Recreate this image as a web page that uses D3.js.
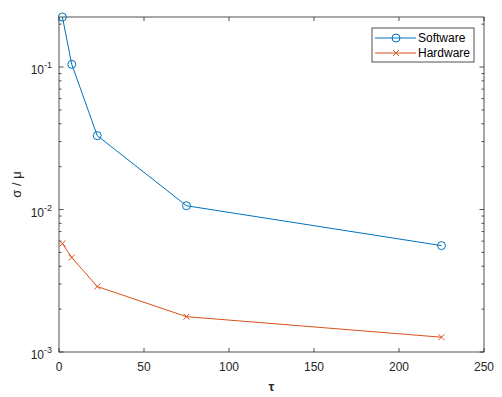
<!DOCTYPE html>
<html>
<head>
<meta charset="utf-8">
<script src="https://cdn.jsdelivr.net/npm/d3@7"></script>
<style>
  body { margin: 0; background: #fff; }
  svg { display: block; font-family: "Liberation Sans", Arial, sans-serif; }
</style>
</head>
<body>
<svg id="chart" width="502" height="397"></svg>
<script>
// data
const tau = [2, 7.5, 22.5, 75, 225];
const software = [0.2245, 0.1045, 0.033, 0.01063, 0.00558];
const hardware = [0.00577, 0.0046, 0.00288, 0.00177, 0.00127];
const xTicks = [0, 50, 100, 150, 200, 250];
const yTicks = [1e-3, 1e-2, 1e-1];
const seriesNames = ['Software', 'Hardware'];

const W = 502, H = 397;
const margin = { left: 59, right: 18, top: 17, bottom: 45 };
const axisColor = '#262626';
const colors = ['#0072BD', '#D95319'];

let svg = d3.select('#chart');
let x = d3.scaleLinear().domain([0, 250]).range([margin.left, W - margin.right]);
let y = d3.scaleLog().domain([1e-3, d3.max(software)]).range([H - margin.bottom, margin.top]);

let [x0, x1] = x.range();
let [y0, y1] = y.range();

// ticks (inside, on all four sides)
let tickG = svg.append('g').attr('stroke', axisColor).attr('stroke-width', 0.8);
for (let t of xTicks)
{
  tickG.append('line').attr('x1', x(t)).attr('x2', x(t)).attr('y1', y0).attr('y2', y0 - 4);
  tickG.append('line').attr('x1', x(t)).attr('x2', x(t)).attr('y1', y1).attr('y2', y1 + 4);
}
let minor = [];
for (let e = -3; e <= -1; e++)
  for (let m = 1; m <= 9; m++)
  {
    let v = m * Math.pow(10, e);
    if (v >= y.domain()[0] && v <= y.domain()[1]) minor.push([v, m === 1]);
  }
for (let [v, major] of minor)
{
  let len = major ? 4.5 : 2.5;
  tickG.append('line').attr('x1', x0).attr('x2', x0 + len).attr('y1', y(v)).attr('y2', y(v));
  tickG.append('line').attr('x1', x1).attr('x2', x1 - len).attr('y1', y(v)).attr('y2', y(v));
}

// box
svg.append('rect')
    .attr('x', x0).attr('y', y1)
    .attr('width', x1 - x0).attr('height', y0 - y1)
    .attr('fill', 'none').attr('stroke', axisColor).attr('stroke-width', 0.8);

// tick labels
svg.append('g').selectAll('text')
    .data(xTicks)
    .join('text')
    .attr('x', d => x(d))
    .attr('y', y0 + 19)
    .attr('text-anchor', 'middle')
    .attr('font-size', 12)
    .attr('fill', axisColor)
    .text(d => d);

let yl = svg.append('g').selectAll('text')
    .data(yTicks)
    .join('text')
    .attr('x', x0 - 7)
    .attr('y', d => y(d) + 7)
    .attr('text-anchor', 'end')
    .attr('font-size', 12)
    .attr('fill', axisColor);
yl.append('tspan').text('10');
yl.append('tspan').attr('dy', -6).attr('font-size', 9).text(d => Math.round(Math.log10(d)));

// axis labels
svg.append('text')
    .attr('x', (x0 + x1) / 2).attr('y', H - 6)
    .attr('text-anchor', 'middle')
    .attr('font-size', 13).attr('font-weight', 'bold')
    .attr('fill', axisColor)
    .text('τ');
svg.append('text')
    .attr('transform', `translate(21,${(y0 + y1) / 2}) rotate(-90)`)
    .attr('text-anchor', 'middle')
    .attr('font-size', 13)
    .attr('fill', axisColor)
    .text('σ / μ');

// series
let line = d3.line().x((d, i) => x(tau[i])).y(d => y(d));
let allSeries = [software, hardware];

function drawMarker(g, k, cx, cy)
{
  if (k === 0)
  {
    g.append('circle').attr('cx', cx).attr('cy', cy).attr('r', 4)
        .attr('fill', 'none').attr('stroke', colors[k]).attr('stroke-width', 1);
  }
  else
  {
    let s = 3;
    g.append('path')
        .attr('d', `M${cx - s},${cy - s}L${cx + s},${cy + s}M${cx - s},${cy + s}L${cx + s},${cy - s}`)
        .attr('stroke', colors[k]).attr('stroke-width', 1);
  }
}

allSeries.forEach((vals, k) => {
  let g = svg.append('g');
  g.append('path')
      .datum(vals)
      .attr('d', line)
      .attr('fill', 'none')
      .attr('stroke', colors[k])
      .attr('stroke-width', 1);
  vals.forEach((v, i) => drawMarker(g, k, x(tau[i]), y(v)));
});

// legend
let lg = svg.append('g');
lg.append('rect')
    .attr('x', 372).attr('y', 28).attr('width', 102).attr('height', 34)
    .attr('fill', '#fff').attr('stroke', axisColor).attr('stroke-width', 0.8);
seriesNames.forEach((name, k) => {
  let ly = 38 + k * 15;
  lg.append('line').attr('x1', 375).attr('x2', 416).attr('y1', ly).attr('y2', ly)
      .attr('stroke', colors[k]).attr('stroke-width', 1);
  drawMarker(lg, k, 396, ly);
  lg.append('text').attr('x', 418).attr('y', ly + 4)
      .attr('font-size', 12).attr('fill', '#000').text(name);
});
</script>
</body>
</html>
